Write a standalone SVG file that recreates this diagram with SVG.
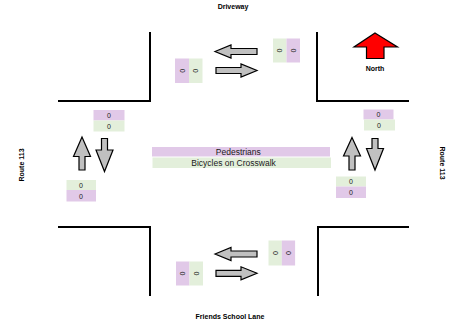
<svg xmlns="http://www.w3.org/2000/svg" width="455" height="324" viewBox="0 0 455 324">
<style>
.curb{fill:none;stroke:#000;stroke-width:2}
.arr{fill:#c0c0c0;stroke:#000;stroke-width:1.2;stroke-linejoin:miter}
.ped{fill:#e1c9e8}
.bic{fill:#e3efdb}
.t{font-family:"Liberation Sans",Arial,sans-serif;font-size:7px;fill:#222;text-anchor:middle}
.lbl{font-family:"Liberation Sans",Arial,sans-serif;font-size:7px;font-weight:bold;fill:#000;text-anchor:middle}
.bar{font-family:"Liberation Sans",Arial,sans-serif;font-size:8.5px;fill:#1a1a1a;text-anchor:middle}
</style>
<rect width="455" height="324" fill="#fff"/>
<g id="curbs">
<path class="curb" d="M150,32 V101 H58"/>
<path class="curb" d="M317,32 V101 H409"/>
<path class="curb" d="M150,296 V227 H58"/>
<path class="curb" d="M318,296 V227 H409"/>
</g>
<g id="labels">
<text class="lbl" x="233" y="9">Driveway</text>
<text class="lbl" x="230" y="319">Friends School Lane</text>
<text class="lbl" transform="translate(24,165) rotate(-90)">Route 113</text>
<text class="lbl" transform="translate(440,163) rotate(90)">Route 113</text>
</g>
<g id="north">
<polygon points="375,33 397.5,47 384,47 384,58.5 366.5,58.5 366.5,47 354,47" fill="#ff0000" stroke="#000" stroke-width="1.2"/>
<text class="lbl" x="375" y="71">North</text>
</g>
<g id="connectors">
<polygon class="arr" points="215,51.5 231,45 231,48.5 257,48.5 257,54.5 231,54.5 231,58"/>
<polygon class="arr" points="216,67.5 241,67.5 241,64 257,70.5 241,77 241,73.5 216,73.5"/>
<polygon class="arr" points="215,254 231,247.5 231,251 257,251 257,257 231,257 231,260.5"/>
<polygon class="arr" points="216,270.3 241,270.3 241,266.8 257,273.3 241,279.8 241,276.3 216,276.3"/>
<polygon class="arr" points="82,137 90.5,156.5 85,156.5 85,170 79,170 79,156.5 73.5,156.5"/>
<polygon class="arr" points="101.5,138.5 107.5,138.5 107.5,150 113,150 104.5,171.5 96,150 101.5,150"/>
<polygon class="arr" points="352,137.5 360.5,156 355,156 355,170 349,170 349,156 343.5,156"/>
<polygon class="arr" points="372,138.5 378,138.5 378,148.5 383.5,148.5 375,170 366.5,148.5 372,148.5"/>
</g>
<g id="crosswalk">
<rect class="ped" x="152" y="147" width="178" height="9.5"/>
<rect class="bic" x="152.5" y="157.5" width="178.5" height="10.5"/>
<text class="bar" x="238.3" y="155">Pedestrians</text>
<text class="bar" x="233.5" y="165.8">Bicycles on Crosswalk</text>
</g>
<g id="count-top-right">
<rect class="bic" x="273" y="38.5" width="13.5" height="24"/>
<rect class="ped" x="286.5" y="38.5" width="13.5" height="24"/>
<text class="t" transform="translate(277.3,50.5) rotate(90)">0</text>
<text class="t" transform="translate(290.8,50.5) rotate(90)">0</text>
</g>
<g id="count-top-left">
<rect class="ped" x="175" y="58.5" width="14" height="24.5"/>
<rect class="bic" x="189" y="58.5" width="13.5" height="24.5"/>
<text class="t" transform="translate(179.5,70.7) rotate(90)">0</text>
<text class="t" transform="translate(193.2,70.7) rotate(90)">0</text>
</g>
<g id="count-bottom-left">
<rect class="ped" x="176" y="261.5" width="13.5" height="24"/>
<rect class="bic" x="189.5" y="261.5" width="13.5" height="24"/>
<text class="t" transform="translate(180.2,273.5) rotate(90)">0</text>
<text class="t" transform="translate(193.7,273.5) rotate(90)">0</text>
</g>
<g id="count-bottom-right">
<rect class="bic" x="268.5" y="240.5" width="13.3" height="25"/>
<rect class="ped" x="281.8" y="240.5" width="13.3" height="25"/>
<text class="t" transform="translate(272.6,253) rotate(90)">0</text>
<text class="t" transform="translate(285.9,253) rotate(90)">0</text>
</g>
<g id="count-left-top">
<rect class="ped" x="93.5" y="110" width="31" height="10.5"/>
<rect class="bic" x="93.5" y="120.5" width="31" height="11"/>
<text class="t" x="109" y="118">0</text>
<text class="t" x="109" y="128.5">0</text>
</g>
<g id="count-left-bottom">
<rect class="bic" x="66.5" y="180" width="29.5" height="10"/>
<rect class="ped" x="66.5" y="190" width="29.5" height="11.5"/>
<text class="t" x="81" y="187.8">0</text>
<text class="t" x="81" y="198.5">0</text>
</g>
<g id="count-right-top">
<rect class="ped" x="363.5" y="109.5" width="30" height="10"/>
<rect class="bic" x="364" y="119.5" width="31" height="11"/>
<text class="t" x="378.5" y="117.3">0</text>
<text class="t" x="379" y="127.8">0</text>
</g>
<g id="count-right-bottom">
<rect class="bic" x="336" y="176.5" width="30" height="10"/>
<rect class="ped" x="336" y="186.5" width="30" height="11.5"/>
<text class="t" x="351" y="184.3">0</text>
<text class="t" x="351" y="195.2">0</text>
</g>
</svg>
